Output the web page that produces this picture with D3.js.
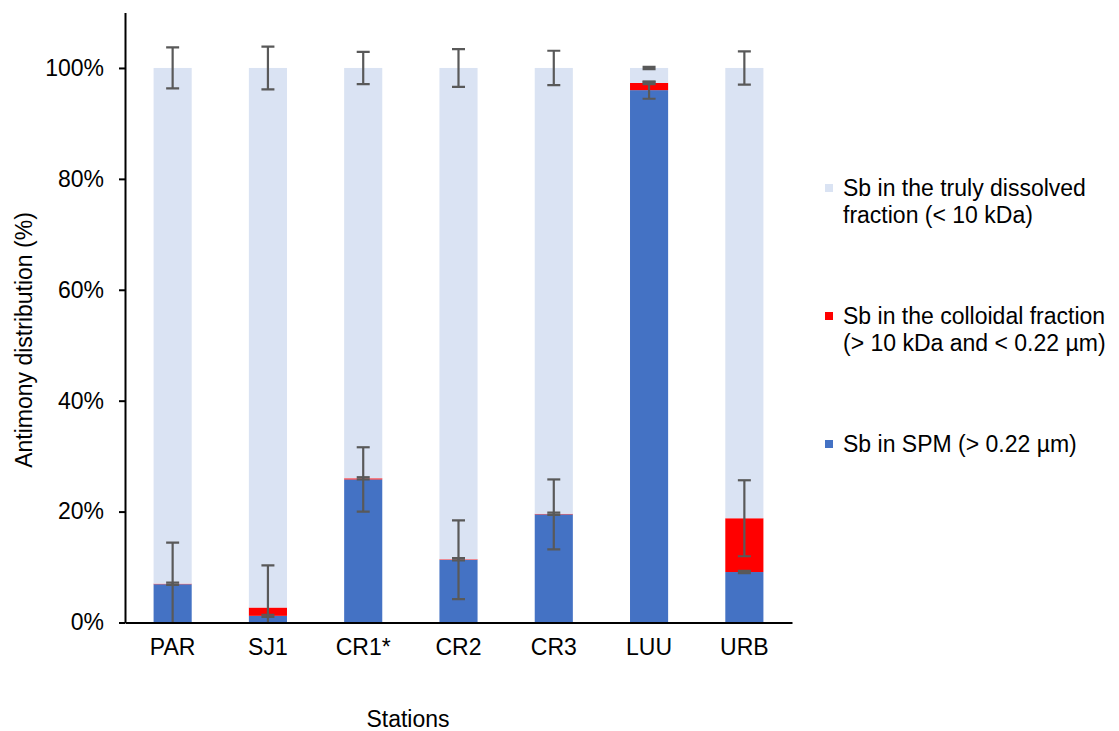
<!DOCTYPE html>
<html>
<head>
<meta charset="utf-8">
<script src="https://cdn.jsdelivr.net/npm/d3@7"></script>
<style>
  body { margin: 0; background: #fff; }
  svg { display: block; font-family: "Liberation Sans", Arial, sans-serif; }
</style>
</head>
<body>
<svg id="chart" width="1119" height="731"></svg>
<script>
'use strict';

// stations along the x axis
var stations = ['PAR', 'SJ1', 'CR1*', 'CR2', 'CR3', 'LUU', 'URB'];

// share of Sb in each fraction (%)
var spm = [6.9, 1.2, 25.8, 11.3, 19.5, 96.0, 9.1];
var colloidal = [0.1, 1.5, 0.2, 0.1, 0.1, 1.3, 9.7];
var dissolved = [93.0, 97.3, 74.0, 88.6, 80.4, 2.7, 81.2];

// error bars (+/- %) drawn at the top of each segment
var spmErr = [7.5, 0.2, 5.8, 7.1, 6.3, 1.55, 0.2];
var colloidalErr = [0.2, 7.6, 0.2, 0.2, 0.2, 0.2, 6.85];
var dissolvedErr = [3.7, 3.85, 2.9, 3.4, 3.1, 0.2, 3.0];

var yTicks = [0, 20, 40, 60, 80, 100];

var legendLabels = [
    ['Sb in the truly dissolved', 'fraction (< 10 kDa)'],
    ['Sb in the colloidal fraction', '(> 10 kDa and < 0.22 µm)'],
    ['Sb in SPM (> 0.22 µm)']
];

var keys = ['spm', 'colloidal', 'dissolved'];
var colors = {spm: '#4472C4', colloidal: '#FF0000', dissolved: '#DAE3F3'};
var errs = {spm: spmErr, colloidal: colloidalErr, dissolved: dissolvedErr};

var rows = stations.map(function (s, i) {
    return {station: s, spm: spm[i], colloidal: colloidal[i], dissolved: dissolved[i], i: i};
});

var svg = d3.select('#chart');
var fontSize = 23;

var x = d3.scaleBand().domain(stations).range([125, 792]).paddingInner(0.6).paddingOuter(0.3);
var y = d3.scaleLinear().domain([0, 110]).range([622.5, 12.5]);

svg.append('defs').append('clipPath').attr('id', 'plot')
    .append('rect').attr('x', 125).attr('y', 12.5).attr('width', 667).attr('height', 610);

var stacked = d3.stack().keys(keys)(rows);

var layers = svg.append('g').selectAll('g').data(stacked).enter().append('g')
    .attr('fill', function (d) { return colors[d.key]; });

layers.selectAll('rect').data(function (d) { return d; }).enter().append('rect')
    .attr('x', function (d) { return x(d.data.station); })
    .attr('width', x.bandwidth())
    .attr('y', function (d) { return y(d[1]); })
    .attr('height', function (d) { return y(d[0]) - y(d[1]); });

// error bars
var errG = svg.append('g').attr('clip-path', 'url(#plot)')
    .attr('stroke', '#595959').attr('stroke-width', 2.2).attr('fill', 'none');
var cap = 6.5;

stacked.forEach(function (layer) {
    layer.forEach(function (d) {
        var e = errs[layer.key][d.data.i];
        var cx = x(d.data.station) + x.bandwidth() / 2;
        var top = y(d[1] + e), bot = y(d[1] - e);
        errG.append('line').attr('x1', cx).attr('x2', cx).attr('y1', top).attr('y2', bot);
        errG.append('line').attr('x1', cx - cap).attr('x2', cx + cap).attr('y1', top).attr('y2', top);
        errG.append('line').attr('x1', cx - cap).attr('x2', cx + cap).attr('y1', bot).attr('y2', bot);
    });
});

// axes
var yAxis = svg.append('g').attr('transform', 'translate(125,0)')
    .call(d3.axisLeft(y).tickValues(yTicks).tickSize(6).tickSizeOuter(0).tickPadding(15)
        .tickFormat(function (d) { return d + '%'; }));
yAxis.selectAll('text').attr('font-size', fontSize).attr('fill', '#000').attr('font-family', null);
yAxis.select('.domain').attr('stroke', '#000').attr('stroke-width', 2);
yAxis.selectAll('.tick line').attr('stroke', '#000').attr('stroke-width', 2);

var xAxis = svg.append('g').attr('transform', 'translate(0,622.5)')
    .call(d3.axisBottom(x).tickSize(0).tickSizeOuter(0).tickPadding(16));
xAxis.selectAll('text').attr('font-size', fontSize).attr('fill', '#000').attr('font-family', null);
xAxis.select('.domain').attr('stroke', '#000').attr('stroke-width', 2);

// axis titles
svg.append('text').attr('x', 408).attr('y', 727).attr('text-anchor', 'middle')
    .attr('font-size', fontSize).text('Stations');
svg.append('text').attr('transform', 'translate(32,340) rotate(-90)').attr('text-anchor', 'middle')
    .attr('font-size', fontSize).text('Antimony distribution (%)');

// legend
var legendY = [188, 316, 444];
var legendKeys = ['dissolved', 'colloidal', 'spm'];
legendKeys.forEach(function (k, i) {
    var g = svg.append('g');
    g.append('rect').attr('x', 825).attr('y', legendY[i] - 4).attr('width', 8).attr('height', 8)
        .attr('fill', colors[k]);
    legendLabels[i].forEach(function (line, j) {
        g.append('text').attr('x', 843).attr('y', legendY[i] + j * 27).attr('dy', '0.35em')
            .attr('font-size', fontSize).attr('fill', '#000').text(line);
    });
});
</script>
</body>
</html>
